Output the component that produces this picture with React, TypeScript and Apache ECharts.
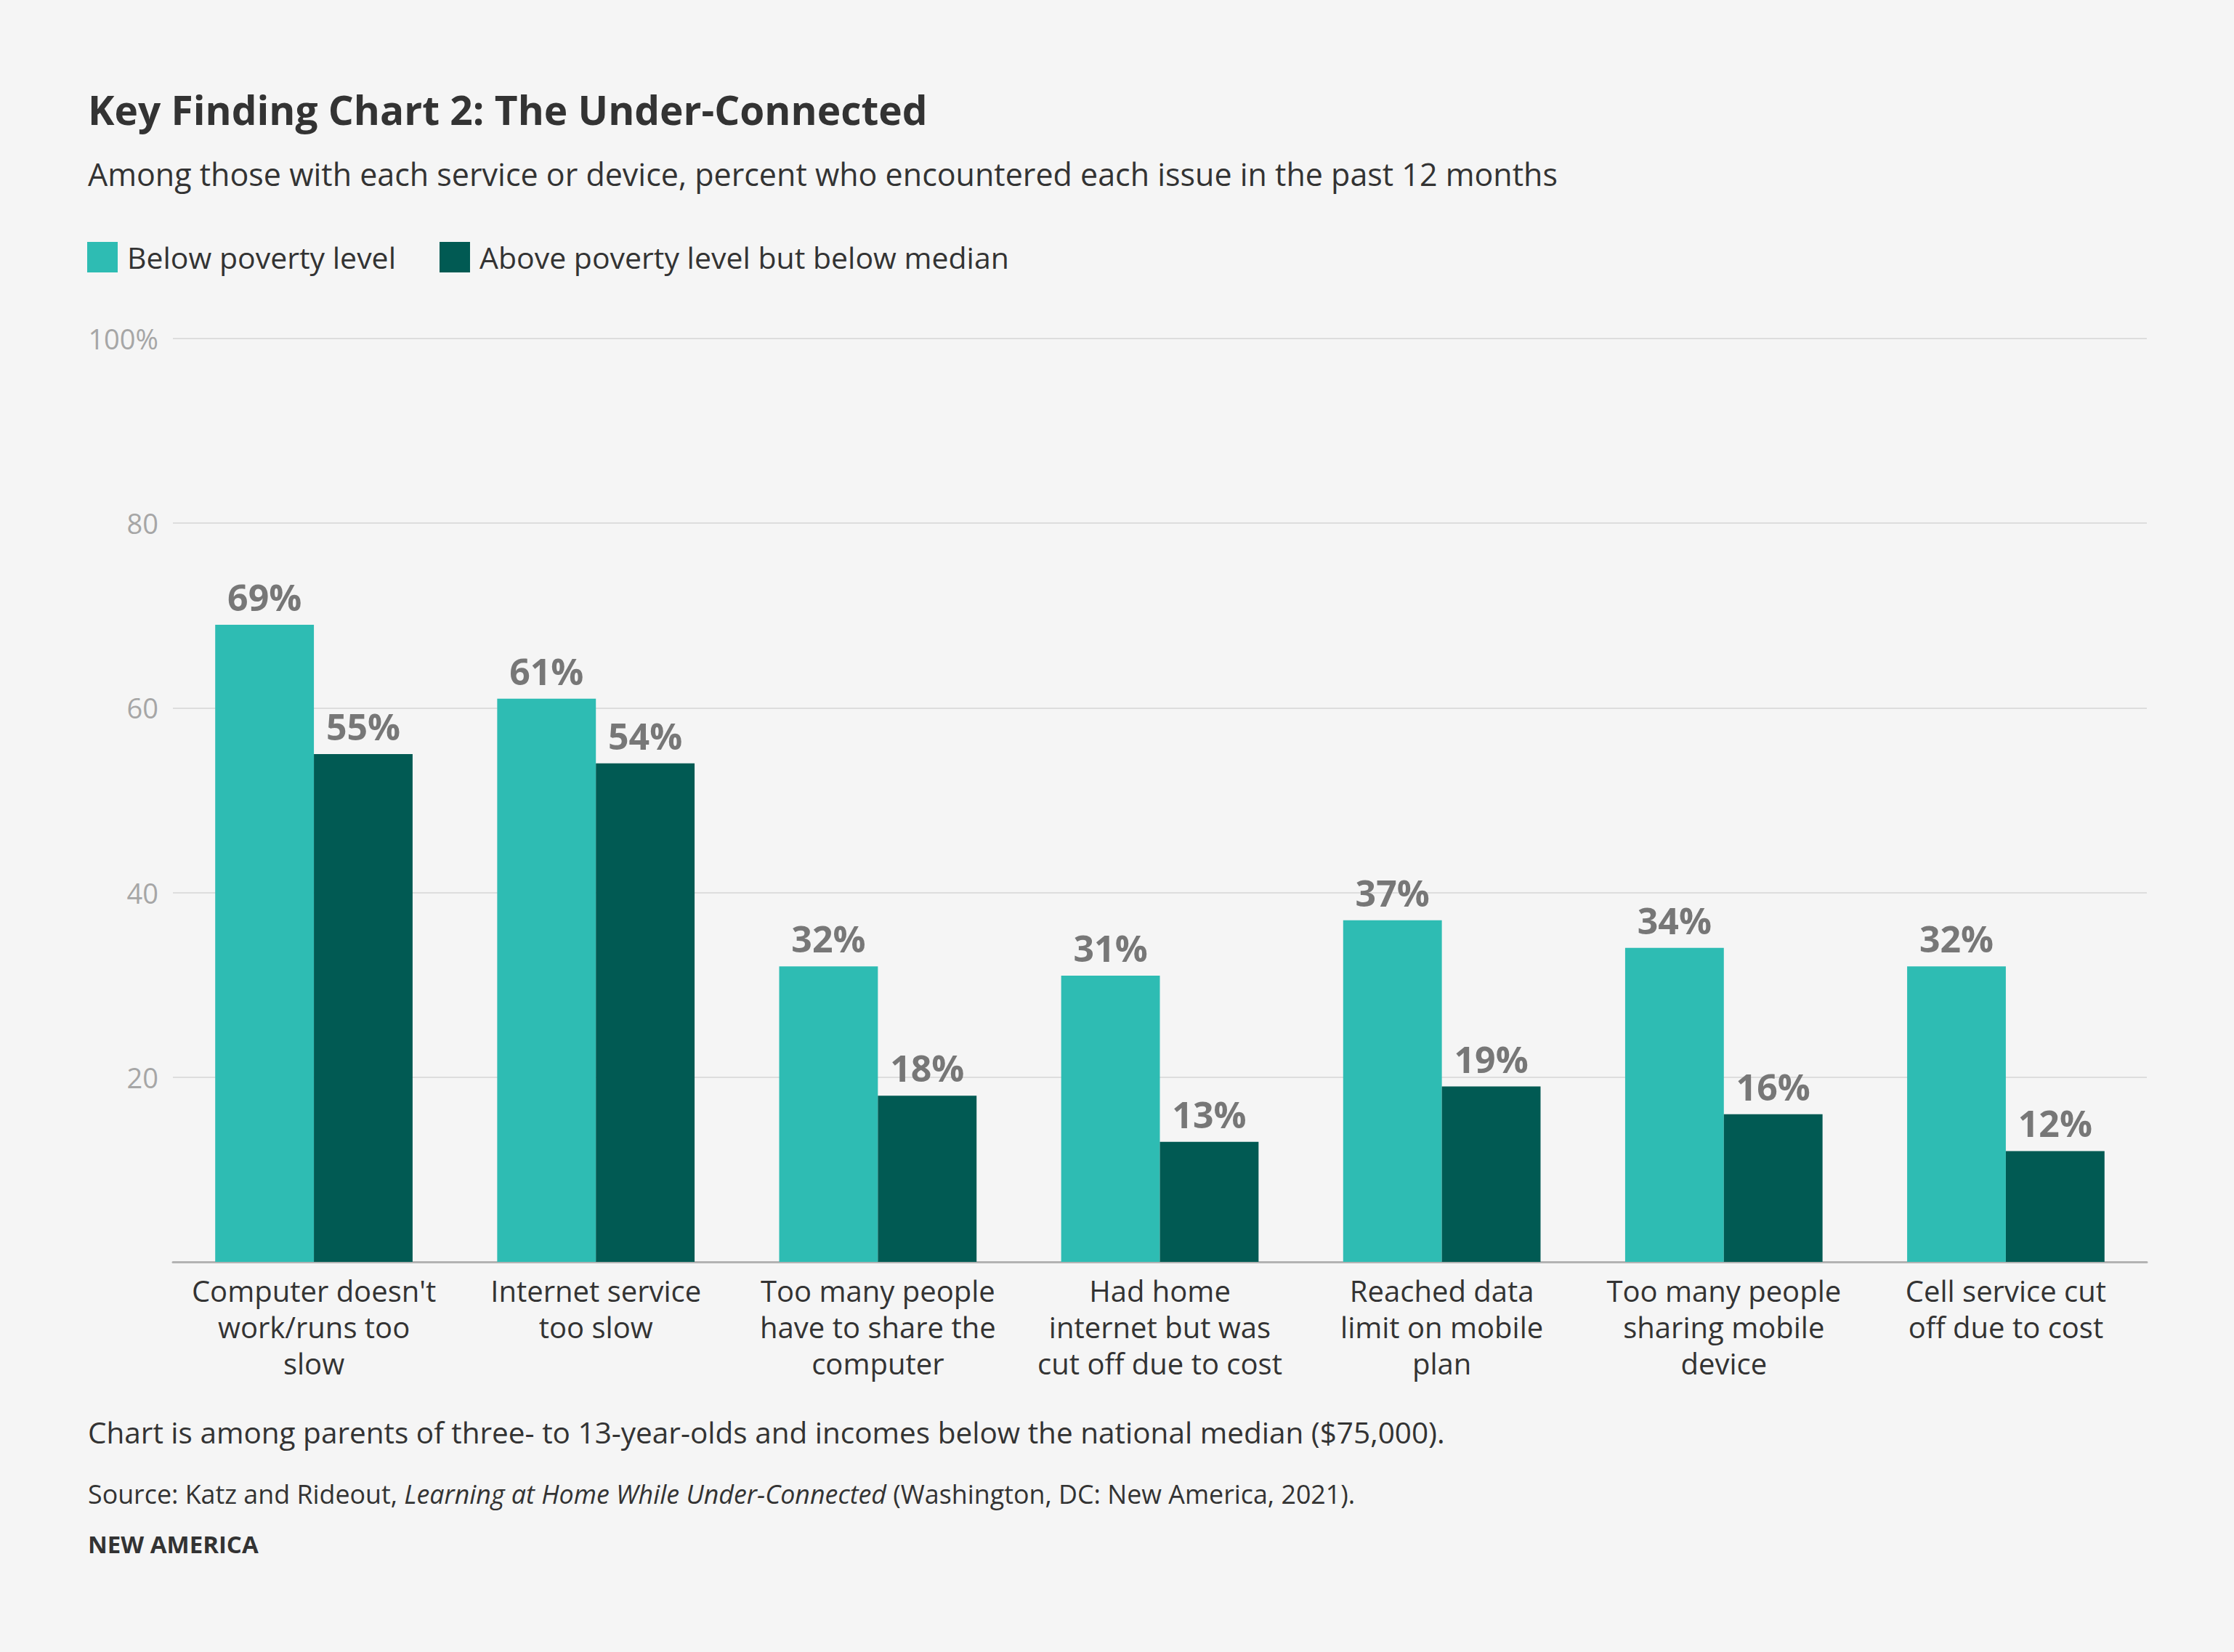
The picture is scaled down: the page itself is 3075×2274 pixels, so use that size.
import React, { useEffect, useRef } from "react";
import * as echarts from "echarts";

const categories = [
  "Computer doesn't\nwork/runs too\nslow",
  "Internet service\ntoo slow",
  "Too many people\nhave to share the\ncomputer",
  "Had home\ninternet but was\ncut off due to cost",
  "Reached data\nlimit on mobile\nplan",
  "Too many people\nsharing mobile\ndevice",
  "Cell service cut\noff due to cost",
];
const seriesNames = ["Below poverty level", "Above poverty level but below median"];
const belowPoverty = [69, 61, 32, 31, 37, 34, 32];
const abovePoverty = [55, 54, 18, 13, 19, 16, 12];
const yTicks = [0, 20, 40, 60, 80, 100];

const titleText = "Key Finding Chart 2: The Under-Connected";
const subtitleText =
  "Among those with each service or device, percent who encountered each issue in the past 12 months";
const noteText =
  "Chart is among parents of three- to 13-year-olds and incomes below the national median ($75,000).";
const sourcePre = "Source: Katz and Rideout, ";
const sourceItalic = "Learning at Home While Under-Connected";
const sourcePost = " (Washington, DC: New America, 2021).";
const brandText = "NEW AMERICA";

const FONT = "'Open Sans', 'Noto Sans', sans-serif";
const TEAL = "#2ebcb3";
const DARK = "#015a53";
const TEXT = "#333333";

export default function App() {
  const ref = useRef<HTMLDivElement>(null);
  useEffect(() => {
    if (!ref.current) return;
    const chart = echarts.init(ref.current, undefined, { renderer: "svg" });
    const labelCfg = {
      show: true,
      position: "top",
      distance: 13,
      formatter: "{c}%",
      color: "#777777",
      fontFamily: FONT,
      fontWeight: "bold",
      fontSize: 50,
    };
    chart.setOption({
      animation: false,
      backgroundColor: "#f5f5f5",
      textStyle: { fontFamily: FONT },
      title: [
        {
          text: titleText,
          left: 121,
          top: 123,
          padding: 0,
          textStyle: { fontFamily: FONT, fontWeight: "bold", fontSize: 55, color: TEXT },
        },
        {
          text: subtitleText,
          left: 121,
          top: 218,
          padding: 0,
          textStyle: { fontFamily: FONT, fontWeight: "normal", fontSize: 43, color: TEXT },
        },
        {
          text: noteText,
          left: 121,
          top: 1951,
          padding: 0,
          textStyle: { fontFamily: FONT, fontWeight: "normal", fontSize: 40.5, color: TEXT },
        },
        {
          text: "{n|" + sourcePre + "}{i|" + sourceItalic + "}{n|" + sourcePost + "}",
          left: 121,
          top: 2038,
          padding: 0,
          textStyle: {
            fontFamily: FONT,
            fontWeight: "normal",
            fontSize: 35.8,
            color: TEXT,
            rich: {
              n: { fontFamily: FONT, fontWeight: "normal", fontSize: 35.8, color: TEXT },
              i: {
                fontFamily: FONT,
                fontWeight: "normal",
                fontSize: 35.8,
                color: TEXT,
                fontStyle: "italic",
              },
            },
          },
        },
        {
          text: brandText,
          left: 121,
          top: 2109,
          padding: 0,
          textStyle: { fontFamily: FONT, fontWeight: "bold", fontSize: 33, color: TEXT },
        },
      ],
      legend: {
        left: 120,
        top: 333,
        padding: 0,
        itemWidth: 42,
        itemHeight: 42,
        itemGap: 60,
        icon: "rect",
        selectedMode: false,
        textStyle: {
          fontFamily: FONT,
          fontSize: 41,
          color: TEXT,
          padding: [0, 0, 0, 8],
        },
        data: seriesNames,
      },
      grid: { left: 238, right: 120, top: 466, bottom: 537, containLabel: false },
      xAxis: {
        type: "category",
        data: categories,
        axisLine: { show: true, lineStyle: { color: "#b3b3b3", width: 3 } },
        axisTick: { show: false },
        axisLabel: {
          interval: 0,
          margin: 14,
          fontFamily: FONT,
          fontSize: 40,
          lineHeight: 50,
          color: TEXT,
          align: "center",
        },
      },
      yAxis: {
        type: "value",
        min: yTicks[0],
        max: yTicks[yTicks.length - 1],
        interval: 20,
        axisLine: { show: false },
        axisTick: { show: false },
        splitLine: { show: true, lineStyle: { color: "#dddddd", width: 2 } },
        axisLabel: {
          margin: 20,
          fontFamily: FONT,
          fontSize: 38,
          color: "#a6a6a6",
          formatter: (v: number) => (v === 0 ? "" : v === 100 ? "100%" : String(v)),
        },
      },
      series: [
        {
          name: seriesNames[0],
          type: "bar",
          data: belowPoverty,
          itemStyle: { color: TEAL },
          barGap: "0%",
          barCategoryGap: "30%",
          label: labelCfg,
        },
        {
          name: seriesNames[1],
          type: "bar",
          data: abovePoverty,
          itemStyle: { color: DARK },
          barGap: "0%",
          barCategoryGap: "30%",
          label: labelCfg,
        },
      ],
    });
    return () => chart.dispose();
  }, []);
  return (
    <div
      ref={ref}
      style={{ position: "absolute", left: 0, top: 0, width: 3075, height: 2274 }}
    />
  );
}
